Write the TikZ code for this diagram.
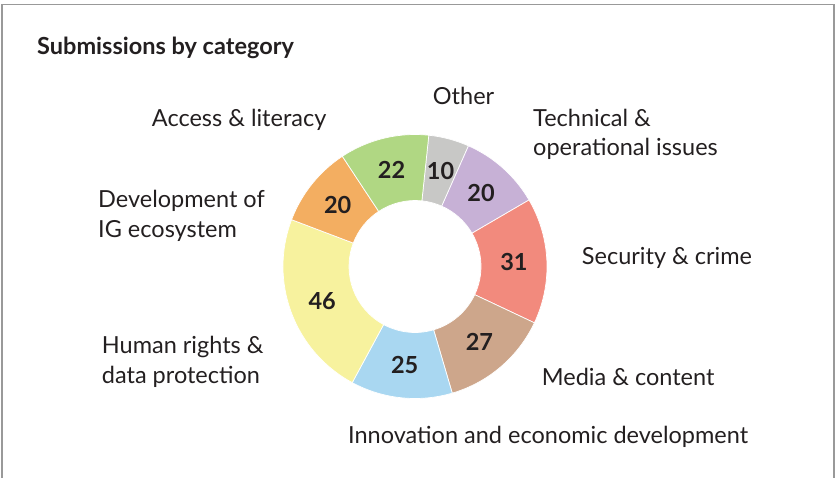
\documentclass[tikz,border=0pt]{standalone}
\usepackage{fontspec}
\setmainfont{Lato}
\definecolor{txt}{HTML}{231F20}
\definecolor{cOther}{HTML}{C8C8C6}
\definecolor{cTech}{HTML}{C7B1D6}
\definecolor{cSec}{HTML}{F28A7D}
\definecolor{cMedia}{HTML}{CDA68B}
\definecolor{cInno}{HTML}{A9D7F1}
\definecolor{cHuman}{HTML}{F7F29E}
\definecolor{cDev}{HTML}{F3AE61}
\definecolor{cAccess}{HTML}{B0D783}
\begin{document}
\begin{tikzpicture}[x=1pt,y=1pt,
  lbl/.style={font=\fontsize{23.5}{29.5}\selectfont,text=txt,inner sep=0pt,anchor=base west,align=left},
  num/.style={font=\fontsize{23.5}{25}\selectfont\bfseries,text=txt,inner sep=0pt},
  heading/.style={font=\fontsize{23.5}{26}\selectfont\bfseries,text=txt,inner sep=0pt,anchor=base west},
  slice/.style={draw=white,line width=0.7pt},
  frame/.style={draw=black!40,line width=1.4pt}]
\useasboundingbox (0,0) rectangle (837,477);
\draw[frame] (2,-5) -- (2,472.5) -- (834,472.5) -- (834,-5);
\node[heading] (title) at (37,422) {Submissions by category};
% donut, 201 submissions in all
\begin{scope}[shift={(415,210.5)}]
\foreach \v/\c [count=\i, evaluate=\v as \e using {\s-\v*1.791045}, remember=\e as \s (initially 84)] in
  {10/cOther,20/cTech,31/cSec,27/cMedia,25/cInno,46/cHuman,20/cDev,22/cAccess}
{
  \filldraw[slice,fill=\c] (\s:132) arc[start angle=\s,end angle=\e,radius=132]
    -- (\e:66) arc[start angle=\e,end angle=\s,radius=66] -- cycle;
  \node[num] (v\i) at ({(\s+\e)/2}:99) {\v};
}
\end{scope}
% category labels (base = last line)
\node[lbl] (other) at (432.7,372) {Other};
\node[lbl] (tech) at (533,321) {Technical \&\\operational issues};
\node[lbl] (sec) at (581.7,212) {Security \& crime};
\node[lbl] (media) at (541.7,92) {Media \& content};
\node[lbl] (inno) at (348,34) {Innovation and economic development};
\node[lbl] (human) at (101.7,94) {Human rights \&\\data protection};
\node[lbl] (dev) at (98,240) {Development of\\IG ecosystem};
\node[lbl] (access) at (151.7,350) {Access \& literacy};
\end{tikzpicture}
\end{document}
